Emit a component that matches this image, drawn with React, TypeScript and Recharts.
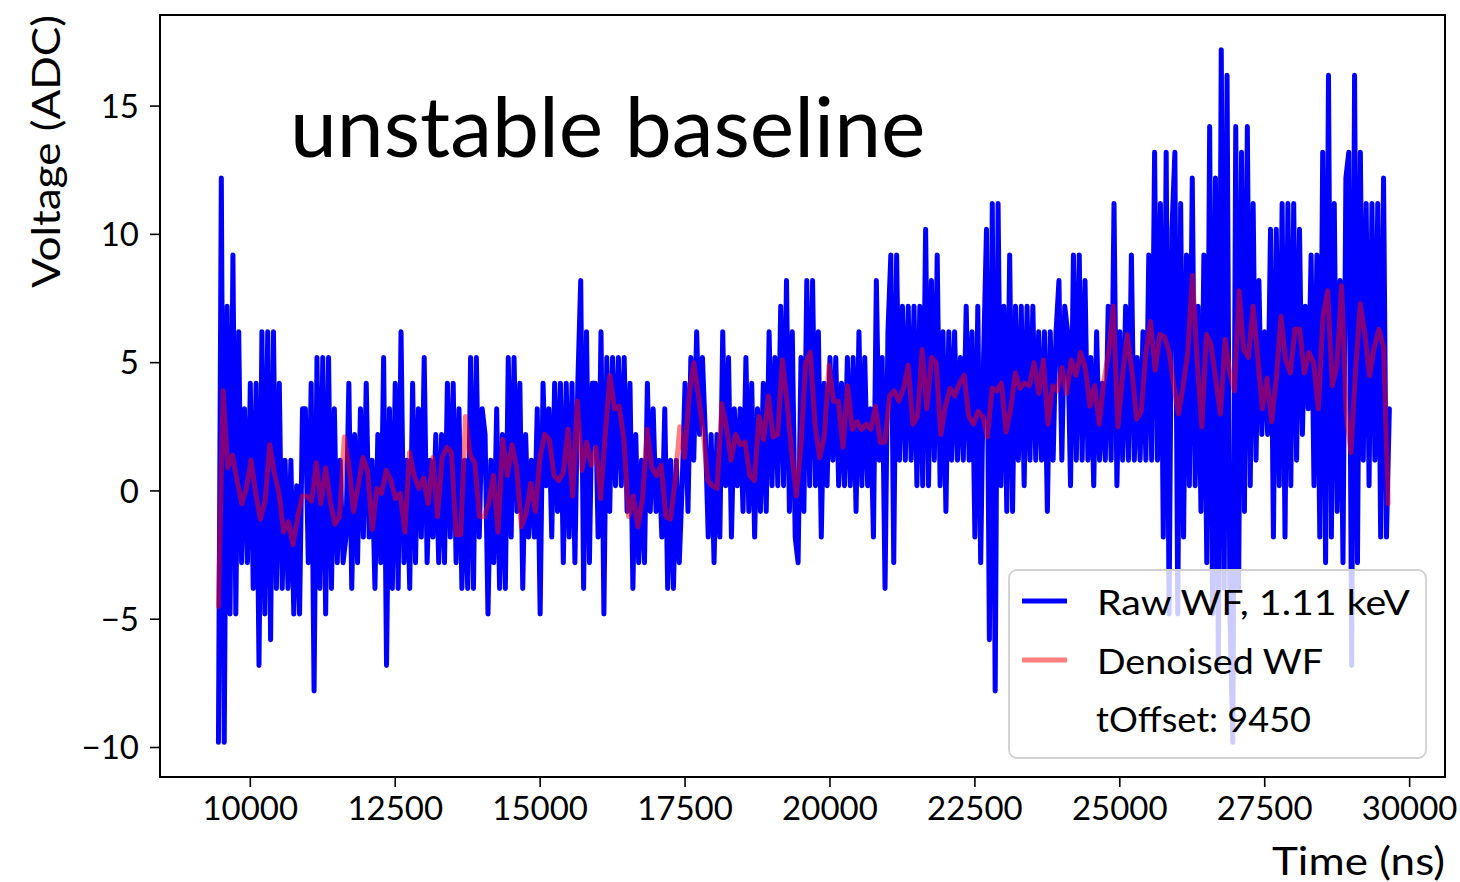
import React from 'react';
import { LineChart, Line, XAxis, YAxis, ReferenceArea } from 'recharts';

// ---- data ----
const RAW_START = 9450;
const RAW_STEP = 50;
const rawValues: number[] = [
  -9.8, 12.2, -9.8, 7.2, -4.8, 9.2, -4.8, 6.2, -2.8, 3.2,
  -2.8, 4.2, -3.8, 4.2, -6.8, 6.2, -4.8, 6.2, -5.8, 6.2,
  -3.8, 4.2, -3.8, 1.2, -3.8, 1.2, -4.8, 0.2, -4.8, 3.2,
  3.2, -2.8, 4.2, -7.8, 5.2, -3.8, 5.2, -4.8, 5.2, -3.8,
  3.2, -2.8, 1.2, -2.8, -1.8, 4.2, -3.8, 2.2, -2.8, 3.2,
  -1.8, 4.2, -1.8, 1.2, -3.8, 2.2, -2.8, 5.2, -6.8, 3.2,
  -3.8, 4.2, -3.8, 6.2, -2.8, 1.2, -3.8, 4.2, -2.8, 3.2,
  -1.8, 5.2, -2.8, 1.2, -1.8, 2.2, -2.8, 2.2, -2.8, 4.2,
  -1.8, 4.2, -2.8, 3.2, -3.8, 1.2, -3.8, 5.2, -3.8, 5.2,
  -1.8, 3.2, 2.2, -4.8, 1.2, -2.8, 3.2, -3.8, 2.2, -3.8,
  5.2, -1.8, 5.2, -0.8, 4.2, -3.8, 2.2, -1.8, 1.2, -1.8,
  3.2, -4.8, 4.2, 0.2, 3.2, -1.8, 4.2, -0.8, 4.2, -2.8,
  4.2, -1.8, 4.2, -2.8, 4.2, 8.2, -3.8, 6.2, -2.8, 4.2,
  4.2, -1.8, 6.2, -4.8, 5.2, -0.8, 5.2, 0.2, 5.2, 0.2,
  5.2, -0.8, 4.2, -3.8, 2.2, -2.8, 1.2, -2.8, 4.2, -0.8,
  3.2, -0.8, 1.2, -1.8, 3.2, -3.8, 1.2, -3.8, 1.2, -2.8,
  0.2, 4.2, -0.8, 5.2, 1.2, 6.2, 2.2, 5.2, 2.2, -1.8,
  2.2, -2.8, 2.2, -1.8, 6.2, 0.2, 5.2, -1.8, 3.2, 0.2,
  3.2, -0.8, 5.2, -0.8, 4.2, -1.8, 3.2, -0.8, 4.2, -0.8,
  6.2, 0.2, 5.2, 0.2, 7.2, 0.2, 8.2, -0.8, 6.2, -1.8,
  -2.8, 5.2, -0.8, 8.2, 0.2, 8.2, 0.2, 6.2, -1.8, 4.2,
  0.2, 5.2, 1.2, 5.2, 0.2, 4.2, 0.2, 5.2, 0.2, 5.2,
  -0.8, 6.2, 0.2, 5.2, 0.2, 3.2, -1.8, 8.2, 1.2, 5.2,
  -3.8, 6.2, 9.2, -2.8, 9.2, 1.2, 7.2, 1.2, 7.2, 1.2,
  7.2, 0.2, 7.2, 0.2, 10.2, 0.2, 8.2, 1.2, 9.2, 0.2,
  6.2, -0.8, 6.2, 1.2, 6.2, 1.2, 5.2, 1.2, 7.2, 1.2,
  6.2, -1.8, 7.2, -2.8, 5.2, 10.2, -5.8, 11.2, -7.8, 11.2,
  0.2, 7.2, -0.8, 9.2, -0.8, 7.2, 1.2, 7.2, 0.2, 7.2,
  1.2, 7.2, 1.2, 6.2, 1.2, 6.2, -0.8, 6.2, 1.2, 6.2,
  8.2, 1.2, 7.2, 6.2, 0.2, 9.2, 1.2, 9.2, 1.2, 8.2,
  1.2, 5.2, 0.2, 6.2, 1.2, 4.2, 1.2, 7.2, 1.2, 11.2,
  0.2, 6.2, 1.2, 7.2, 1.2, 9.2, 1.2, 5.2, 1.2, 6.2,
  1.2, 9.2, 1.2, 13.2, 1.2, 11.2, -1.8, 13.2, -4.8, 10.2,
  13.2, -4.8, 11.2, -1.8, 9.2, 0.2, 12.2, 0.2, 7.2, -0.8,
  9.2, -2.8, 14.2, -4.8, 12.2, -6.8, 17.2, -3.8, 16.2, -4.8,
  -9.8, 14.2, -3.8, 13.2, -0.8, 14.2, 0.2, 11.2, 1.2, 8.2,
  2.2, 6.2, 2.2, 10.2, -1.8, 10.2, 0.2, 11.2, -1.8, 11.2,
  0.2, 11.2, 1.2, 10.2, 2.2, 7.2, 3.2, 9.2, 0.2, 9.2,
  -1.8, 13.2, -2.8, 16.2, -1.8, 11.2, -0.8, 8.2, -2.8, 12.2,
  13.2, -6.8, 16.2, -2.8, 13.2, 1.2, 11.2, 0.2, 11.2, 1.2,
  11.2, -1.8, 12.2, -1.8, 3.2,
];

const DEN_START = 9450;
const DEN_STEP = 80.4;
const denoisedValues: number[] = [
  -4.5, 3.9, 0.9, 1.4, 0.4, -0.5, 0.1, 1.2, -0.1, -1.1,
  -0.4, 1.8, 0.7, -0.1, -1.6, -1.2, -2.1, -1.0, -0.2, -0.2,
  -0.4, 1.1, -0.5, 0.9, -0.4, -1.3, -1.0, 2.1, 1.0, -0.8,
  0.2, 1.3, 0.8, -1.5, 0.1, -0.1, 0.8, 0.4, -0.3, -0.1,
  -1.6, 1.5, 0.6, 0.1, 0.5, -0.5, 1.3, -1.0, 1.3, 1.7,
  1.5, -1.7, -1.7, 2.9, 1.4, 1.1, -1.0, -1.0, -0.5, 0.6,
  -1.6, 2.0, 0.6, 1.8, 0.9, -1.4, -0.9, 0.3, -0.8, 1.3,
  2.2, 2.0, 0.6, 0.4, 0.7, 2.4, -0.2, 3.5, 0.8, 1.9,
  1.0, 1.7, -0.3, 2.2, 4.5, 3.2, 3.3, 2.0, -1.0, -0.2,
  -1.4, -0.3, 2.4, 0.9, 0.6, 1.0, -1.0, -1.1, 0.4, 2.5,
  1.3, 3.7, 5.0, 3.7, 2.3, 0.4, 0.2, 0.1, 3.4, 2.5,
  1.2, 2.2, 1.8, 1.9, 0.6, 0.4, 2.9, 2.0, 3.7, 2.1,
  2.2, 5.1, 3.5, 1.5, -0.2, 1.8, 5.0, 5.4, 2.6, 1.3,
  2.1, 4.9, 3.5, 3.5, 1.7, 4.1, 2.4, 2.7, 2.4, 2.6,
  2.4, 3.3, 1.9, 1.9, 3.7, 3.9, 3.5, 4.0, 4.9, 2.6,
  2.9, 5.5, 3.2, 5.2, 5.0, 2.2, 3.3, 4.0, 3.7, 4.2,
  4.5, 2.9, 2.6, 3.1, 2.9, 2.1, 4.0, 3.9, 4.2, 2.3,
  3.2, 4.6, 4.0, 4.2, 4.1, 5.0, 3.8, 5.1, 2.6, 4.1,
  3.9, 4.8, 3.8, 5.1, 4.5, 5.4, 4.8, 3.3, 4.1, 2.6,
  4.3, 5.4, 7.2, 2.5, 4.5, 6.1, 4.7, 2.8, 3.1, 5.4,
  6.6, 4.7, 6.1, 6.0, 5.4, 4.1, 3.0, 4.1, 5.4, 8.4,
  5.1, 2.5, 6.1, 5.7, 4.3, 3.0, 5.9, 4.6, 3.9, 7.8,
  5.5, 5.2, 7.2, 5.2, 3.2, 4.4, 2.7, 4.4, 6.8, 5.1,
  4.6, 6.3, 6.3, 4.6, 5.4, 5.0, 3.2, 6.8, 7.8, 4.1,
  4.9, 8.0, 3.0, 1.5, 4.7, 7.3, 6.1, 4.5, 5.6, 6.3,
  5.6, -0.5,
];

const xTicks = [10000, 12500, 15000, 17500, 20000, 22500, 25000, 27500, 30000];
const yTicks = [-10, -5, 0, 5, 10, 15];
const X_DOMAIN: [number, number] = [8442, 30610];
const Y_DOMAIN: [number, number] = [-11.15, 18.55];

const TITLE = 'unstable baseline';
const X_LABEL = 'Time (ns)';
const Y_LABEL = 'Voltage (ADC)';
const RAW_LABEL = 'Raw WF, 1.11 keV';
const DEN_LABEL = 'Denoised WF';
const OFFSET_LABEL = 'tOffset: 9450';

const rawData = rawValues.map((v, i) => ({ t: RAW_START + i * RAW_STEP, v }));
const denoisedData = denoisedValues.map((v, i) => ({ t: DEN_START + i * DEN_STEP, v }));

const FONT = "Lato, 'Open Sans', sans-serif";

const fmtY = (v: number) => (v < 0 ? `\u2212${Math.abs(v)}` : `${v}`);

export default function App() {
  return (
    <div style={{ position: 'absolute', left: 0, top: 0, width: 1460, height: 882, background: '#fff' }}>
      <LineChart width={1460} height={882} margin={{ top: 15, right: 15, bottom: 0, left: 0 }}>
        <XAxis
          type="number"
          dataKey="t"
          domain={X_DOMAIN}
          ticks={xTicks}
          interval={0}
          allowDataOverflow
          height={105}
          tickSize={10}
          tickMargin={10}
          axisLine={{ stroke: '#000', strokeWidth: 2 }}
          tickLine={{ stroke: '#000', strokeWidth: 1.6 }}
          tick={{ fill: '#000', fontSize: 33, fontFamily: FONT }}
        />
        <YAxis
          type="number"
          domain={Y_DOMAIN}
          ticks={yTicks}
          interval={0}
          allowDataOverflow
          width={160}
          tickSize={10}
          tickMargin={11}
          tickFormatter={fmtY}
          axisLine={{ stroke: '#000', strokeWidth: 2 }}
          tickLine={{ stroke: '#000', strokeWidth: 1.6 }}
          tick={{ fill: '#000', fontSize: 33, fontFamily: FONT }}
        />
        <ReferenceArea
          x1={X_DOMAIN[0]}
          x2={X_DOMAIN[1]}
          y1={Y_DOMAIN[0]}
          y2={Y_DOMAIN[1]}
          fill="none"
          fillOpacity={0}
          stroke="#000"
          strokeWidth={2}
          ifOverflow="visible"
        />
        <Line
          data={rawData}
          dataKey="v"
          type="linear"
          stroke="#0000ff"
          strokeWidth={5}
          strokeLinejoin="round"
          strokeLinecap="round"
          dot={false}
          activeDot={false}
          isAnimationActive={false}
        />
        <Line
          data={denoisedData}
          dataKey="v"
          type="linear"
          stroke="#ff0000"
          strokeOpacity={0.5}
          strokeWidth={5}
          strokeLinejoin="round"
          strokeLinecap="round"
          dot={false}
          activeDot={false}
          isAnimationActive={false}
        />
      </LineChart>
      <svg
        width={1460}
        height={882}
        style={{ position: 'absolute', left: 0, top: 0, pointerEvents: 'none' }}
      >
        <text x={290} y={157} fontSize={84} fontFamily={FONT} fill="#000">{TITLE}</text>
        <text x={1445} y={875} fontSize={38} fontFamily={FONT} fill="#000" textAnchor="end" textLength={173} lengthAdjust="spacingAndGlyphs">{X_LABEL}</text>
        <text
          transform="translate(60,15) rotate(-90)"
          fontSize={38}
          fontFamily={FONT}
          fill="#000"
          textAnchor="end"
          textLength={273}
          lengthAdjust="spacingAndGlyphs"
        >
          {Y_LABEL}
        </text>
        <rect x={1009} y={570} width={417} height={188} rx={8} ry={8} fill="#fff" fillOpacity={0.8} stroke="#d0d0d0" strokeWidth={1.8} />
        <line x1={1022} y1={601} x2={1067} y2={601} stroke="#0000ff" strokeWidth={5} />
        <line x1={1022} y1={660} x2={1067} y2={660} stroke="#ff0000" strokeOpacity={0.5} strokeWidth={5} />
        <text x={1097} y={615} fontSize={35} fontFamily={FONT} fill="#000" textLength={313} lengthAdjust="spacingAndGlyphs">{RAW_LABEL}</text>
        <text x={1097} y={674} fontSize={35} fontFamily={FONT} fill="#000" textLength={226} lengthAdjust="spacingAndGlyphs">{DEN_LABEL}</text>
        <text x={1096} y={732} fontSize={35} fontFamily={FONT} fill="#000" textLength={215} lengthAdjust="spacingAndGlyphs">{OFFSET_LABEL}</text>
      </svg>
    </div>
  );
}
